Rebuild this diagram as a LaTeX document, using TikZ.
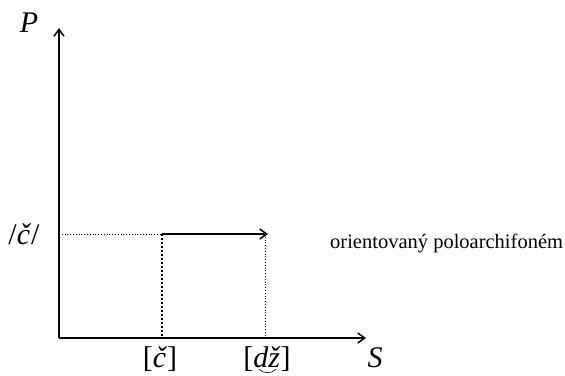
\documentclass[tikz,border=0pt]{standalone}
\usepackage{fontspec}
\setmainfont{Liberation Serif}
\usetikzlibrary{arrows.meta}
\begin{document}
\begin{tikzpicture}[x=1pt,y=-1pt,
  axis/.style={line width=1.8pt,-{Straight Barb[length=7pt,width=10pt,line width=1.5pt]}},
  lbl/.style={font=\fontsize{30}{32}\selectfont,inner sep=0pt,anchor=base},
  txt/.style={font=\fontsize{20.5}{22}\selectfont,inner sep=0pt,anchor=base west}]
\useasboundingbox (0,0) rectangle (565,375);
\coordinate (O) at (59,338);
\coordinate (Ytop) at (59,28);
\coordinate (Xend) at (366,338);
\coordinate (A) at (162,234);
\coordinate (Ab) at (162,338);
\coordinate (B) at (268,234);
\coordinate (Bv) at (265,234);
\coordinate (Bb) at (265,338);
\coordinate (Y0) at (59,234);
\draw[axis] (O) -- (Ytop);
\draw[axis] (O) -- (Xend);
\draw[line width=0.8pt,dotted] (Y0) -- (A);
\draw[line width=2pt,dotted] (A) -- (Ab);
\draw[line width=0.8pt,dotted] (Bv) -- (Bb);
\draw[line width=1.8pt,-{Straight Barb[length=7pt,width=10pt,line width=1.5pt]}] (A) -- (B);
\node[lbl] (P) at (29,32) {\textit{P}};
\node[lbl] (S) at (375,367) {\textit{S}};
\node[lbl] (c) at (24,244) {/\textit{č}/};
\node[lbl] (cb) at (160,367) {[\textit{č}]};
\node[lbl] (dz) at (267,367) {[\textit{dž}]};
\draw[line width=0.6pt] (259,369) .. controls (263,374) and (272,374) .. (276,369);
\node[txt] (t) at (330,248) {orientovaný poloarchifoném};
\end{tikzpicture}
\end{document}
